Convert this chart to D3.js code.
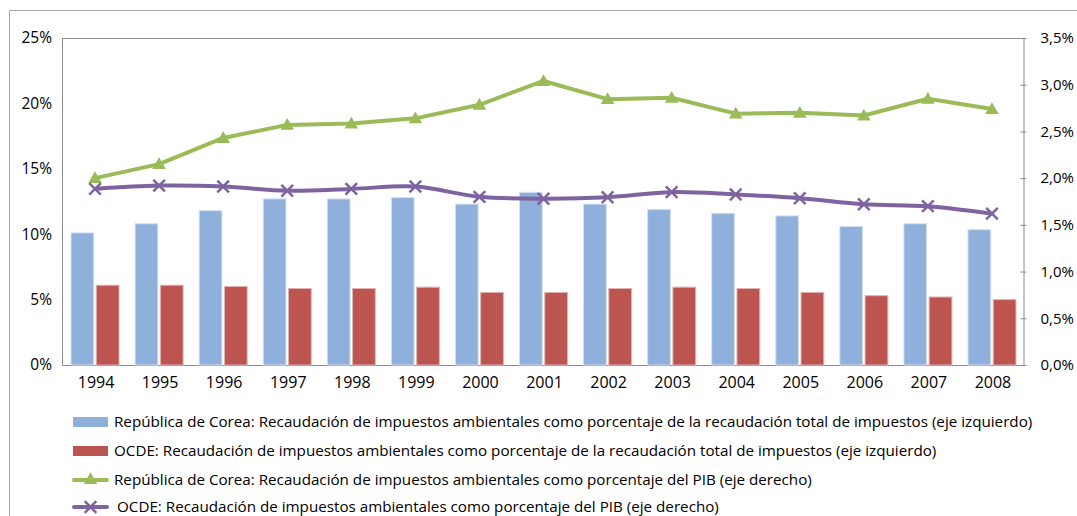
<!DOCTYPE html>
<html>
<head>
<meta charset="utf-8">
<script src="https://cdn.jsdelivr.net/npm/d3@7"></script>
<style>
  body { margin: 0; background: #fff; }
  text { font-family: "Open Sans", Lato, sans-serif; fill: #000; }
</style>
</head>
<body>
<div id="chart"></div>
<script>

// data
var years = ["1994","1995","1996","1997","1998","1999","2000","2001","2002","2003","2004","2005","2006","2007","2008"];
var koreaShareTax = [10.1, 10.8, 11.8, 12.7, 12.7, 12.8, 12.3, 13.2, 12.3, 11.9, 11.6, 11.4, 10.6, 10.8, 10.35];
var oecdShareTax  = [6.1, 6.1, 6.0, 5.85, 5.85, 5.95, 5.55, 5.55, 5.85, 5.95, 5.85, 5.55, 5.3, 5.2, 5.0];
var koreaShareGdp = [2.0, 2.15, 2.43, 2.57, 2.585, 2.64, 2.785, 3.04, 2.845, 2.86, 2.69, 2.70, 2.67, 2.85, 2.74];
var oecdShareGdp  = [1.885, 1.92, 1.91, 1.865, 1.885, 1.91, 1.80, 1.78, 1.795, 1.85, 1.825, 1.785, 1.72, 1.70, 1.62];
var leftTicks  = [0, 5, 10, 15, 20, 25];
var rightTicks = [0, 0.5, 1.0, 1.5, 2.0, 2.5, 3.0, 3.5];
var legendLabels = [
  "República de Corea: Recaudación de impuestos ambientales como porcentaje de la recaudación total de impuestos (eje izquierdo)",
  "OCDE: Recaudación de impuestos ambientales como porcentaje de la recaudación total de impuestos (eje izquierdo)",
  "República de Corea: Recaudación de impuestos ambientales como porcentaje del PIB (eje derecho)",
  "OCDE: Recaudación de impuestos ambientales como porcentaje del PIB (eje derecho)"
];

var blue = "#8eb0db", red = "#bc5450", green = "#9bbb59", purple = "#7f63a1";
var axisGrey = "#8c8c8c";

var W = 1077, H = 516;
var plot = {left: 62, right: 1023, top: 38, bottom: 365};

var svg = d3.select("#chart").append("svg")
    .attr("width", W)
    .attr("height", H);

// outer chart frame (cut off on the right and bottom)
svg.append("path")
    .attr("d", "M9.5," + H + "V10.5H" + W)
    .attr("fill", "none")
    .attr("stroke", "#a6a6a6")
    .attr("stroke-width", 1);

var x = d3.scaleBand().domain(years).range([plot.left, plot.right]),
    yLeft = d3.scaleLinear().domain([0, 25]).range([plot.bottom, plot.top]),
    yRight = d3.scaleLinear().domain([0, 3.5]).range([plot.bottom, plot.top]);

// plot area border: left, top, bottom
svg.append("path")
    .attr("d", "M" + (plot.right) + "," + (plot.top + 0.5) + "H" + (plot.left + 0.5) + "V" + (plot.bottom + 0.5) + "H" + plot.right)
    .attr("fill", "none")
    .attr("stroke", axisGrey)
    .attr("stroke-width", 1);

//////////////////////////////////////
// bars
//////////////////////////////////////
var inner = d3.scaleBand().domain([0, 1]).range([-24, 24]).paddingInner(0.1);

var groups = svg.append("g").selectAll("g")
    .data(years)
    .enter().append("g")
    .attr("transform", function(d) { return "translate(" + (x(d) + x.bandwidth() / 2 + 1) + ",0)"; });

groups.append("rect")
    .attr("x", inner(0))
    .attr("width", inner.bandwidth())
    .attr("y", function(d, i) { return yLeft(koreaShareTax[i]); })
    .attr("height", function(d, i) { return plot.bottom - yLeft(koreaShareTax[i]); })
    .attr("fill", blue)
    .attr("stroke", "#d4e1f1")
    .attr("stroke-width", 1);

groups.append("rect")
    .attr("x", inner(1))
    .attr("width", inner.bandwidth())
    .attr("y", function(d, i) { return yLeft(oecdShareTax[i]); })
    .attr("height", function(d, i) { return plot.bottom - yLeft(oecdShareTax[i]); })
    .attr("fill", red)
    .attr("stroke", "#e2b3b1")
    .attr("stroke-width", 1);

//////////////////////////////////////
// lines
//////////////////////////////////////
var cx = function(i) { return x(years[i]) + x.bandwidth() / 2 + 1; };

var greenLine = d3.line()
    .x(function(d, i) { return cx(i); })
    .y(function(d) { return yRight(d); });
var purpleLine = d3.line()
    .x(function(d, i) { return cx(i); })
    .y(function(d) { return yRight(d); })
    .curve(d3.curveCatmullRom.alpha(0.5));

svg.append("path")
    .attr("d", greenLine(koreaShareGdp))
    .attr("fill", "none")
    .attr("stroke", green)
    .attr("stroke-width", 4)
    .attr("stroke-linejoin", "round");

var tri = d3.symbol().type(d3.symbolTriangle).size(80);
svg.append("g").selectAll("path")
    .data(koreaShareGdp)
    .enter().append("path")
    .attr("d", tri)
    .attr("transform", function(d, i) { return "translate(" + cx(i) + "," + (yRight(d) + 1) + ")"; })
    .attr("fill", green);

svg.append("path")
    .attr("d", purpleLine(oecdShareGdp))
    .attr("fill", "none")
    .attr("stroke", purple)
    .attr("stroke-width", 4)
    .attr("stroke-linejoin", "round");

var cross = d3.symbol().type(d3.symbolTimes).size(90);
svg.append("g").selectAll("path")
    .data(oecdShareGdp)
    .enter().append("path")
    .attr("d", function() { return cross(); })
    .attr("transform", function(d, i) { return "translate(" + cx(i) + "," + yRight(d) + ")"; })
    .attr("fill", "none")
    .attr("stroke", purple)
    .attr("stroke-width", 2.5);

//////////////////////////////////////
// axes
//////////////////////////////////////
var fmtLeft = function(d) { return d + "%"; };
var fmtRight = function(d) { return d.toFixed(1).replace(".", ",") + "%"; };

var leftAxis = svg.append("g")
    .attr("transform", "translate(" + plot.left + ",0)")
    .call(d3.axisLeft(yLeft).tickValues(leftTicks).tickFormat(fmtLeft).tickSize(0).tickPadding(10));
leftAxis.select(".domain").remove();
leftAxis.selectAll("text").style("font-size", "15.5px").attr("font-family", null);

var rightAxis = svg.append("g")
    .attr("transform", "translate(" + (plot.right + 0.5) + ",0)")
    .call(d3.axisRight(yRight).tickValues(rightTicks).tickFormat(fmtRight).tickSizeInner(3).tickSizeOuter(0).tickPadding(14));
rightAxis.select(".domain").attr("stroke", axisGrey);
rightAxis.selectAll(".tick line").attr("stroke", axisGrey).attr("x1", -3);
rightAxis.selectAll("text").style("font-size", "15px").attr("font-family", null);

var bottomAxis = svg.append("g")
    .attr("transform", "translate(2," + plot.bottom + ")")
    .call(d3.axisBottom(x).tickSize(0).tickPadding(12));
bottomAxis.select(".domain").remove();
bottomAxis.selectAll("text").style("font-size", "16px").attr("font-family", null);

//////////////////////////////////////
// legend
//////////////////////////////////////
var legendY = [422, 451, 480, 507];
var legend = svg.append("g").selectAll("g")
    .data(legendLabels)
    .enter().append("g")
    .attr("transform", function(d, i) { return "translate(0," + legendY[i] + ")"; });

legend.append("text")
    .attr("x", function(d, i) { return i == 3 ? 117 : 114; })
    .attr("y", 0)
    .attr("dy", "0.35em")
    .style("font-size", "15.2px")
    .text(function(d) { return d; });

legend.filter(function(d, i) { return i < 2; })
    .append("rect")
    .attr("x", 73)
    .attr("y", -5)
    .attr("width", 35)
    .attr("height", 10)
    .attr("fill", function(d, i) { return i == 0 ? blue : red; });

var lineKeys = legend.filter(function(d, i) { return i >= 2; });
lineKeys.append("line")
    .attr("x1", 74).attr("x2", 107)
    .attr("stroke", function(d, i) { return i == 0 ? green : purple; })
    .attr("stroke-width", 4)
    .attr("stroke-linecap", "round");
lineKeys.append("path")
    .attr("d", function(d, i) { return i == 0 ? tri() : cross(); })
    .attr("transform", "translate(90.5,0)")
    .attr("fill", function(d, i) { return i == 0 ? green : "none"; })
    .attr("stroke", function(d, i) { return i == 0 ? "none" : purple; })
    .attr("stroke-width", 2.5);

</script>
</body>
</html>
